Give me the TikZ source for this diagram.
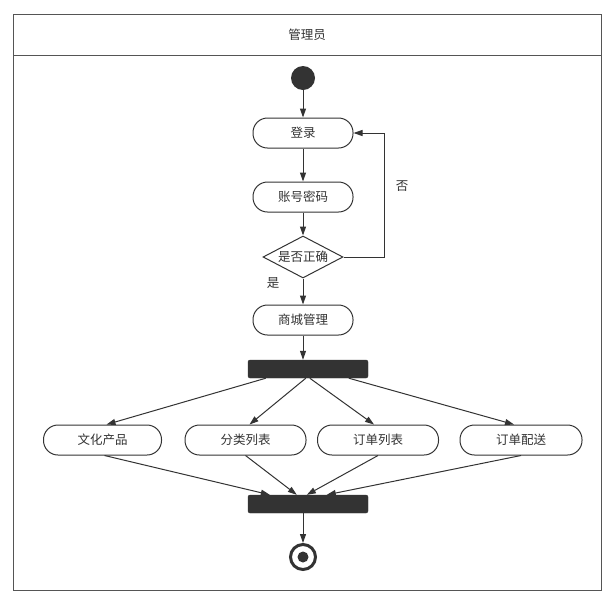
\documentclass[tikz,border=0pt]{standalone}
\usepackage{fontspec}
\newfontfamily\cjk{Noto Sans CJK SC}
\usetikzlibrary{arrows.meta,shapes.geometric,calc}
\definecolor{ink}{HTML}{333333}
\definecolor{frame}{HTML}{555555}
\begin{document}
\begin{tikzpicture}[x=1pt,y=-1pt,
  every node/.style={font=\cjk\fontsize{12.5}{15}\selectfont, text=ink},
  act/.style={draw=ink, line width=1pt, rounded corners=14.5pt, minimum height=30pt, inner sep=0pt},
  bar/.style={fill=ink, draw=ink, rounded corners=2pt, minimum width=120pt, minimum height=18pt, inner sep=0pt},
  conn/.style={draw=ink, line width=1pt, -{Triangle[length=9pt,width=6pt]}},
  plain/.style={draw=ink, line width=1pt}]
\useasboundingbox (0,0) rectangle (615,606);
\fill[white] (0,0) rectangle (615,606);
% frame
\draw[frame, line width=1pt] (13,14) rectangle (601,590);
\draw[frame, line width=1pt] (13,55) -- (601,55);
\node (title) at (307,35) {管理员};
% start
\node[circle, fill=ink, minimum size=24pt, inner sep=0pt] (start) at (303,78) {};
\node[act, minimum width=100pt] (login) at (303,133) {登录};
\node[act, minimum width=100pt] (acct) at (303,197) {账号密码};
\node[diamond, draw=ink, line width=1pt, minimum width=80pt, minimum height=42pt, inner sep=0pt,
  label={[text=ink]center:是否正确}] (dec) at (303,257) {};
\node (yes) at (273,283) {是};
\node (no) at (402,186) {否};
\node[act, minimum width=100pt] (mall) at (303,320) {商城管理};
\node[bar] (fork) at (308,369) {};
\node[act, minimum width=118pt] (n1) at (102.5,440) {文化产品};
\node[act, minimum width=121pt] (n2) at (245.5,440) {分类列表};
\node[act, minimum width=121pt] (n3) at (378,440) {订单列表};
\node[act, minimum width=122pt] (n4) at (521,440) {订单配送};
\node[bar] (join) at (308,504) {};
\node[circle, draw=ink, line width=3pt, minimum size=25pt, inner sep=0pt] (end) at (303,557) {};
\node[circle, fill=ink, minimum size=11pt, inner sep=0pt] at (end.center) {};
% connectors
\draw[conn] (start) -- (login);
\draw[conn] (login) -- (acct);
\draw[conn] (acct) -- (dec);
\draw[conn] (dec.east) -- ++(41,0) |- (login.east);
\draw[conn] (dec) -- (mall);
\draw[conn] (mall.south) -- (mall.south |- fork.north);
\draw[conn] ($(fork.south west)+(18,0)$) -- ($(n1.north)+(4,0)$);
\draw[conn] ($(fork.south west)+(58,0)$) -- ($(n2.north)+(4,0)$);
\draw[conn] ($(fork.south west)+(62,0)$) -- ($(n3.north)+(-4,0)$);
\draw[conn] ($(fork.south west)+(101,0)$) -- ($(n4.north)+(-7,0)$);
\draw[conn] ($(n1.south)+(2,0)$) -- ($(join.north west)+(22,0)$);
\draw[conn] (n2.south) -- ($(join.north west)+(49,0)$);
\draw[conn] (n3.south) -- ($(join.north west)+(59,0)$);
\draw[conn] (n4.south) -- ($(join.north west)+(79,0)$);
\draw[conn] (join.south -| end.north) -- (end.north);
\end{tikzpicture}
\end{document}
